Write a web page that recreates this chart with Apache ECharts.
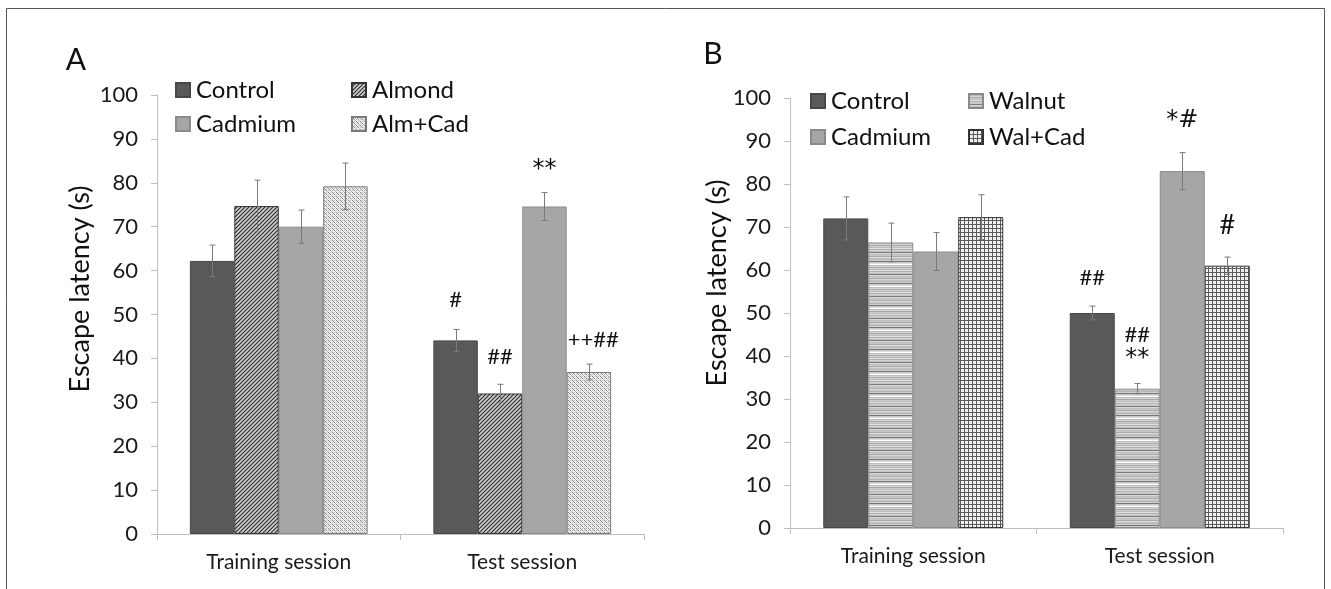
<!DOCTYPE html>
<html><head><meta charset="utf-8">
<script src="https://cdn.jsdelivr.net/npm/echarts/dist/echarts.min.js"></script>
<style>html,body{margin:0;padding:0;background:#fff}#c{width:1331px;height:589px}</style>
</head><body><div id="c"></div>
<script>
// ---------- data ----------
const categories = ['Training session', 'Test session'];
const namesA = ['Control', 'Almond', 'Cadmium', 'Alm+Cad'];
const namesB = ['Control', 'Walnut', 'Cadmium', 'Wal+Cad'];
const yTicks = [0, 10, 20, 30, 40, 50, 60, 70, 80, 90, 100];
const yTitle = 'Escape latency (s)';

// Panel A values (training, test)
const controlA = [62.2, 44.1];
const almondA = [74.7, 32.0];
const cadmiumA = [70.0, 74.6];
const almCadA = [79.2, 36.9];
// Panel A SEM
const controlAErr = [3.6, 2.5];
const almondAErr = [5.9, 2.1];
const cadmiumAErr = [3.8, 3.2];
const almCadAErr = [5.3, 1.8];

// Panel B values
const controlB = [72.0, 50.0];
const walnutB = [66.4, 32.4];
const cadmiumB = [64.3, 83.0];
const walCadB = [72.3, 61.0];
// Panel B SEM
const controlBErr = [5.0, 1.6];
const walnutBErr = [4.5, 1.2];
const cadmiumBErr = [4.4, 4.3];
const walCadBErr = [5.2, 2.0];

// significance marks: [seriesIndex, categoryIndex, yValue, text, big]
const marksA = [[0, 1, 53.4, '#', 0], [1, 1, 40.3, '##', 0], [2, 1, 83.0, '**', 0], [3.1, 1, 44.2, '++##', 0]];
const marksB = [[0, 1, 58.2, '##', 0], [1, 1, 45.0, '##', 0], [1, 1, 39.3, '**', 0], [2, 1, 94.8, '*#', 0], [3, 1, 70.4, '#', 1]];

// ---------- patterns ----------
function mk(w, h, draw) { const c = document.createElement('canvas'); c.width = w; c.height = h; draw(c.getContext('2d')); return c; }
const patAlmond = mk(4, 4, g => {
  g.fillStyle = '#cfcfcf'; g.fillRect(0, 0, 4, 4);
  g.strokeStyle = '#2a2a2a'; g.lineWidth = 1.1;
  g.beginPath(); g.moveTo(-1, 5); g.lineTo(5, -1); g.moveTo(-3, 3); g.lineTo(3, -3); g.moveTo(1, 7); g.lineTo(7, 1); g.stroke();
});
const patAlmCad = mk(4, 4, g => {
  g.fillStyle = '#eeeeee'; g.fillRect(0, 0, 4, 4);
  g.fillStyle = '#8e8e8e'; g.fillRect(0, 0, 1, 1); g.fillRect(2, 2, 1, 1); g.fillRect(1, 1, 1, 1);
  g.fillStyle = '#bdbdbd'; g.fillRect(3, 3, 1, 1); g.fillRect(2, 0, 1, 1); g.fillRect(0, 2, 1, 1);
});
const walnutRows = ['#ffffff', '#bdbdbd', '#d6d6d6', '#a8a8a8', '#cfcfcf', '#bcbcbc', '#e0e0e0', '#b0b0b0', '#d2d2d2', '#c4c4c4', '#7a7a7a', '#d9d9d9', '#bdbdbd', '#cacaca', '#a9a9a9', '#dadada', '#c2c2c2', '#b5b5b5', '#d0d0d0', '#767676', '#c8c8c8', '#dcdcdc'];
const patWalnut = mk(4, walnutRows.length, g => { walnutRows.forEach((col, i) => { g.fillStyle = col; g.fillRect(0, i, 4, 1); }); });
const patWalCad = mk(4, 4, g => {
  g.fillStyle = '#f0f0f0'; g.fillRect(0, 0, 4, 4);
  g.fillStyle = '#5a5a5a'; g.fillRect(0, 0, 4, 1); g.fillRect(0, 0, 1, 4);
});
const pat = c => ({ image: c, repeat: 'repeat' });

// ---------- layout ----------
const FONT = 'Lato, "Open Sans", sans-serif';
const GAP = 0.27;
const grids = [
  { left: 157, right: 687, top: 95, bottom: 55 },
  { left: 790, right: 48, top: 98, bottom: 61 }
];

function barSeries(name, data, gi, itemStyle) {
  return { type: 'bar', name, data, xAxisIndex: gi, yAxisIndex: gi, barGap: '0%', barCategoryGap: (GAP * 100) + '%', itemStyle, emphasis: { disabled: true }, z: 2 };
}

function errSeries(vals, errs, k, gi) {
  const data = vals.map((v, i) => [i, v - errs[i], v + errs[i], k]);
  return {
    type: 'custom', xAxisIndex: gi, yAxisIndex: gi, z: 5, silent: true, data,
    renderItem(params, api) {
      const cat = api.value(0), lo = api.value(1), hi = api.value(2), kk = api.value(3);
      const bw = api.size([1, 0])[0] * (1 - GAP) / 4;
      const x = Math.round(api.coord([cat, 0])[0] + (kk - 1.5) * bw) + 0.5;
      const yh = api.coord([cat, hi])[1], yl = api.coord([cat, lo])[1];
      const st = { stroke: '#7a7a7a', lineWidth: 1 };
      return { type: 'group', children: [
        { type: 'line', shape: { x1: x, y1: yh, x2: x, y2: yl }, style: st },
        { type: 'line', shape: { x1: x - 3, y1: yh, x2: x + 3, y2: yh }, style: st },
        { type: 'line', shape: { x1: x - 3, y1: yl, x2: x + 3, y2: yl }, style: st }
      ] };
    }
  };
}

function markSeries(marks, gi) {
  return {
    type: 'custom', xAxisIndex: gi, yAxisIndex: gi, z: 6, silent: true,
    data: marks.map(m => [m[1], m[2], m[0]]),
    renderItem(params, api) {
      const cat = api.value(0), y = api.value(1), k = api.value(2);
      const m = marks[params.dataIndex];
      const txt = m[3];
      const bw = api.size([1, 0])[0] * (1 - GAP) / 4;
      const p = api.coord([cat, y]);
      const x = p[0] + (k - 1.5) * bw;
      const font = txt.indexOf('*') >= 0 ? '24px "DejaVu Sans", sans-serif' : (m[4] ? '27px ' : '22px ') + FONT;
      return { type: 'text', style: { x, y: p[1], text: txt, fill: '#111', font, align: 'center', verticalAlign: 'middle' } };
    }
  };
}

const xAxes = [0, 1].map(gi => ({
  type: 'category', gridIndex: gi, data: categories,
  axisLine: { lineStyle: { color: '#bfbfbf', width: 1 } },
  axisTick: { show: true, length: 6, lineStyle: { color: '#bfbfbf' } },
  axisLabel: { color: '#1a1a1a', fontSize: 21, fontFamily: FONT, margin: 18 }
}));
const yAxes = [0, 1].map(gi => ({
  type: 'value', gridIndex: gi, min: yTicks[0], max: yTicks[yTicks.length - 1], interval: yTicks[1] - yTicks[0],
  axisLine: { show: true, lineStyle: { color: '#bfbfbf', width: 1 } },
  axisTick: { show: true, length: 6, lineStyle: { color: '#bfbfbf' } },
  axisLabel: { color: '#1a1a1a', fontSize: 22, fontFamily: FONT, margin: 19 },
  splitLine: { show: false }
}));

const legendCommon = { orient: 'vertical', itemWidth: 14, itemHeight: 14, icon: 'rect', selectedMode: false,
  textStyle: { color: '#111', fontSize: 24, fontFamily: FONT, lineHeight: 28, padding: [0, 0, 0, 1] } };

const option = {
  animation: false,
  backgroundColor: '#fff',
  grid: grids,
  xAxis: xAxes,
  yAxis: yAxes,
  legend: [
    Object.assign({ left: 170, top: 71, itemGap: 6, data: [namesA[0], namesA[2]] }, legendCommon),
    Object.assign({ left: 346, top: 71, itemGap: 6, data: [namesA[1], namesA[3]] }, legendCommon),
    Object.assign({ left: 805, top: 82, itemGap: 8, data: [namesB[0], namesB[2]] }, legendCommon),
    Object.assign({ left: 963, top: 82, itemGap: 8, data: [namesB[1], namesB[3]] }, legendCommon)
  ],
  graphic: [
    { type: 'rect', shape: { x: 6.5, y: 8.5, width: 1318, height: 600 }, style: { fill: 'none', stroke: '#555', lineWidth: 1 }, silent: true },
    { type: 'text', x: 76, y: 60, style: { text: 'A', font: '30px ' + FONT, fill: '#111', align: 'center', verticalAlign: 'middle' } },
    { type: 'text', x: 713, y: 54, style: { text: 'B', font: '30px ' + FONT, fill: '#111', align: 'center', verticalAlign: 'middle' } },
    { type: 'text', x: 80, y: 289, rotation: Math.PI / 2, style: { text: yTitle, font: '27px ' + FONT, fill: '#111', align: 'center', verticalAlign: 'middle' } },
    { type: 'text', x: 717, y: 283, rotation: Math.PI / 2, style: { text: yTitle, font: '27px ' + FONT, fill: '#111', align: 'center', verticalAlign: 'middle' } }
  ],
  series: [
    barSeries(namesA[0], controlA, 0, { color: '#595959', borderColor: '#474747', borderWidth: 1 }),
    barSeries(namesA[1], almondA, 0, { color: pat(patAlmond), borderColor: '#333', borderWidth: 1 }),
    barSeries(namesA[2], cadmiumA, 0, { color: '#a6a6a6', borderColor: '#8a8a8a', borderWidth: 1 }),
    barSeries(namesA[3], almCadA, 0, { color: pat(patAlmCad), borderColor: '#7a7a7a', borderWidth: 1 }),
    barSeries(namesB[0], controlB, 1, { color: '#595959', borderColor: '#474747', borderWidth: 1 }),
    barSeries(namesB[1], walnutB, 1, { color: pat(patWalnut), borderColor: '#8a8a8a', borderWidth: 1 }),
    barSeries(namesB[2], cadmiumB, 1, { color: '#a6a6a6', borderColor: '#8a8a8a', borderWidth: 1 }),
    barSeries(namesB[3], walCadB, 1, { color: pat(patWalCad), borderColor: '#333', borderWidth: 1 }),
    errSeries(controlA, controlAErr, 0, 0), errSeries(almondA, almondAErr, 1, 0),
    errSeries(cadmiumA, cadmiumAErr, 2, 0), errSeries(almCadA, almCadAErr, 3, 0),
    errSeries(controlB, controlBErr, 0, 1), errSeries(walnutB, walnutBErr, 1, 1),
    errSeries(cadmiumB, cadmiumBErr, 2, 1), errSeries(walCadB, walCadBErr, 3, 1),
    markSeries(marksA, 0), markSeries(marksB, 1)
  ]
};
const chart = echarts.init(document.getElementById('c'));
chart.setOption(option);
</script></body></html>
